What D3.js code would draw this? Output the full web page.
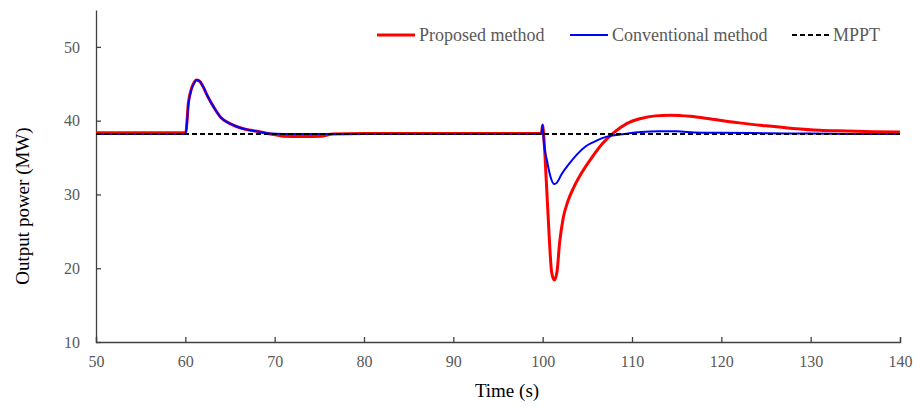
<!DOCTYPE html>
<html>
<head>
<meta charset="utf-8">
<script src="https://cdn.jsdelivr.net/npm/d3@7"></script>
<style>
  body { margin: 0; background: #fff; overflow: hidden; }
  svg { display: block; }
</style>
</head>
<body>
<div class="chart"></div>
<script>
const width = 916
const height = 410
const serif = "'Liberation Serif', 'Times New Roman', serif"

// time (s) and output power (MW)
const proposedTime = [50, 59.9, 60.05, 60.35, 60.65, 60.95, 61.25, 61.55, 61.95, 62.5, 63.2, 64.0, 65.0, 66.5, 68.3, 69.5, 71, 73, 75.3, 76.5, 80, 90, 99.85, 100.0, 100.1, 100.4, 100.7, 101.0, 101.3, 101.6, 101.9, 102.3, 102.8, 103.5, 104.4, 105.5, 106.7, 108.0, 109.4, 111.0, 112.6, 114.3, 116.5, 119, 122, 125, 128, 131, 134, 137, 140]
const proposedPower = [38.35, 38.35, 38.4, 42.5, 44.2, 45.1, 45.5, 45.4, 44.7, 43.3, 41.8, 40.4, 39.6, 38.9, 38.5, 38.2, 37.9, 37.85, 37.9, 38.2, 38.25, 38.25, 38.25, 39.4, 38.3, 32, 25, 19.5, 18.4, 19.5, 23.5, 26.8, 29.0, 31.0, 33.0, 35.0, 36.9, 38.4, 39.6, 40.3, 40.65, 40.75, 40.6, 40.2, 39.7, 39.3, 38.95, 38.7, 38.6, 38.5, 38.45]

const conventionalTime = [50, 59.9, 60.05, 60.35, 60.65, 60.95, 61.25, 61.55, 61.95, 62.5, 63.2, 64.0, 65.0, 66.5, 68.3, 69.5, 71, 75, 80, 90, 99.85, 100.0, 100.1, 100.5, 100.9, 101.3, 101.6, 102.1, 103.0, 103.9, 104.8, 105.7, 106.6, 107.6, 108.5, 109.7, 111, 113, 115, 117, 120, 125, 130, 135, 140]
const conventionalPower = [38.2, 38.2, 38.3, 42.3, 44.1, 45.0, 45.5, 45.4, 44.7, 43.3, 41.8, 40.4, 39.6, 38.9, 38.5, 38.25, 38.2, 38.2, 38.2, 38.2, 38.2, 39.4, 37.5, 34.5, 32.3, 31.4, 31.6, 32.7, 34.2, 35.5, 36.5, 37.1, 37.6, 37.95, 38.1, 38.3, 38.45, 38.55, 38.55, 38.4, 38.35, 38.3, 38.25, 38.2, 38.2]

const mpptTime = [50, 140]
const mpptPower = [38.2, 38.2]

const xTicks = [50, 60, 70, 80, 90, 100, 110, 120, 130, 140]
const yTicks = [10, 20, 30, 40, 50]

const series = [
    {name: "Proposed method", t: proposedTime, p: proposedPower, color: "#ff0000", w: 3, dash: null},
    {name: "Conventional method", t: conventionalTime, p: conventionalPower, color: "#0000ff", w: 2, dash: null},
    {name: "MPPT", t: mpptTime, p: mpptPower, color: "#000", w: 2, dash: "5,3"},
]

const margin = {top: 10, right: 16, bottom: 68, left: 96}
const innerWidth = width - margin.left - margin.right
const innerHeight = height - margin.top - margin.bottom

const svg = d3.select(".chart")
    .append("svg")
    .attr("width", width)
    .attr("height", height)
    .attr("font-family", serif)

const xScale = d3.scaleLinear()
    .domain([50, 140])
    .range([0, innerWidth])

const yScale = d3.scaleLinear()
    .domain([10, 55])
    .range([innerHeight, 0])

const g = svg.append("g")
    .attr("transform", `translate(${margin.left}, ${margin.top})`)

// axes, ticks pointing inward
g.append("g")
    .attr("transform", `translate(0, ${innerHeight})`)
    .call(d3.axisBottom(xScale).tickValues(xTicks).tickSize(-5).tickSizeOuter(-5).tickPadding(14))
    .attr("font-size", 16)
    .attr("font-family", serif)

g.append("g")
    .call(d3.axisLeft(yScale).tickValues(yTicks).tickSize(-5).tickSizeOuter(0).tickPadding(16))
    .attr("font-size", 16)
    .attr("font-family", serif)

g.selectAll(".domain, .tick line")
    .attr("stroke", "#404040")
    .attr("stroke-width", 1.3)

g.selectAll(".tick text")
    .attr("fill", "#595959")

// lines
const line = d3.line()
    .x(d => xScale(d[0]))
    .y(d => yScale(d[1]))
    .curve(d3.curveMonotoneX)

g.selectAll("path.series")
    .data(series)
    .enter().append("path")
        .attr("class", "series")
        .attr("d", d => line(d3.zip(d.t, d.p)))
        .attr("fill", "none")
        .attr("stroke", d => d.color)
        .attr("stroke-width", d => d.w)
        .attr("stroke-dasharray", d => d.dash)
        .attr("stroke-linejoin", "round")

// legend
const legendX = [377, 570, 792]
const legend = svg.selectAll("g.legend")
    .data(series)
    .enter().append("g")
        .attr("class", "legend")
        .attr("transform", (d, i) => `translate(${legendX[i]}, 35)`)

legend.append("line")
    .attr("x1", 0)
    .attr("x2", (d, i) => i === 2 ? 40 : 38)
    .attr("stroke", d => d.color)
    .attr("stroke-width", d => d.w)
    .attr("stroke-dasharray", d => d.dash)

legend.append("text")
    .attr("x", (d, i) => i === 2 ? 41 : 42)
    .attr("y", 6)
    .attr("fill", "#595959")
    .attr("font-size", 18)
    .text(d => d.name)

// axis titles
svg.append("text")
    .attr("x", margin.left + innerWidth / 2 + 9)
    .attr("y", 397)
    .attr("text-anchor", "middle")
    .attr("font-size", 19)
    .text("Time (s)")

svg.append("text")
    .attr("transform", "translate(29, 206) rotate(-90)")
    .attr("text-anchor", "middle")
    .attr("font-size", 19)
    .text("Output power (MW)")
</script>
</body>
</html>
